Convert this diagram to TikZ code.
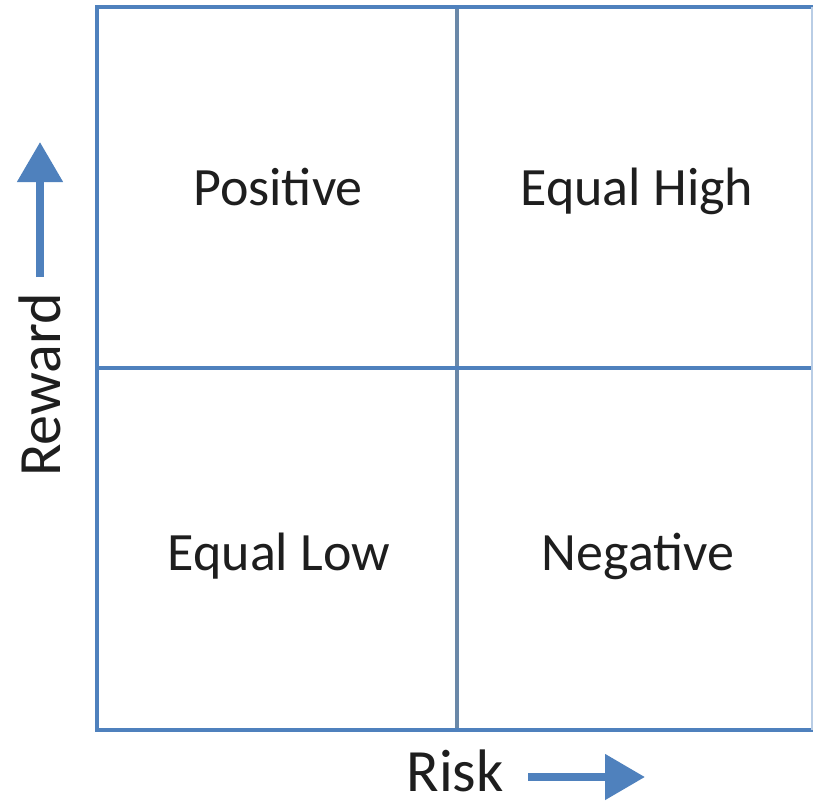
\documentclass[tikz,border=0pt]{standalone}
\usepackage{fontspec}
\setmainfont{Carlito}
\usetikzlibrary{arrows.meta}
\definecolor{frameblue}{RGB}{79,129,189}
\definecolor{midgray}{RGB}{106,136,168}
\definecolor{txt}{RGB}{30,30,30}
\tikzset{
  frameline/.style={draw=frameblue, line width=4pt},
  midline/.style={draw=midgray, line width=4pt},
  quad/.style={anchor=base, text=txt, font=\fontsize{54}{60}\selectfont, inner sep=0pt},
  axislab/.style={anchor=base, text=txt, font=\fontsize{60}{66}\selectfont, inner sep=0pt},
  axisarrow/.style={draw=frameblue, line width=8pt, -{Triangle[width=44pt,length=40pt]}}
}
\begin{document}
\begin{tikzpicture}[x=1pt,y=-1pt]
\useasboundingbox (0,0) rectangle (813,801);
\fill[white] (0,0) rectangle (813,801);
% grid
\coordinate (tl) at (97,7);
\coordinate (br) at (811,730);
\draw[midline] (457,7) coordinate (vt) -- (457,730) coordinate (vb);
\draw[frameline] (97,368) coordinate (hl) -- (813,368) coordinate (hr);
\draw[frameline] (813,7) -- (tl) -- (97,730) -- (813,730);
\draw[draw=frameblue!40, line width=2pt] (812,7) -- (812,730);
% quadrant labels
\node[quad] (pos) at (278,205) {Positive};
\node[quad] (eqh) at (637,205) {Equal High};
\node[quad] (eql) at (279,570) {Equal Low};
\node[quad] (neg) at (638,570) {Negative};
% axis labels
\node[axislab] (risk) at (455,791) {Risk};
\node[axislab, rotate=90] (reward) at (60,385) {Reward};
% arrows
\coordinate (ua) at (40,277);
\coordinate (ub) at (40,142);
\draw[axisarrow] (ua) -- (ub);
\coordinate (ra) at (528,777);
\coordinate (rb) at (645,777);
\draw[axisarrow] (ra) -- (rb);
\end{tikzpicture}
\end{document}
